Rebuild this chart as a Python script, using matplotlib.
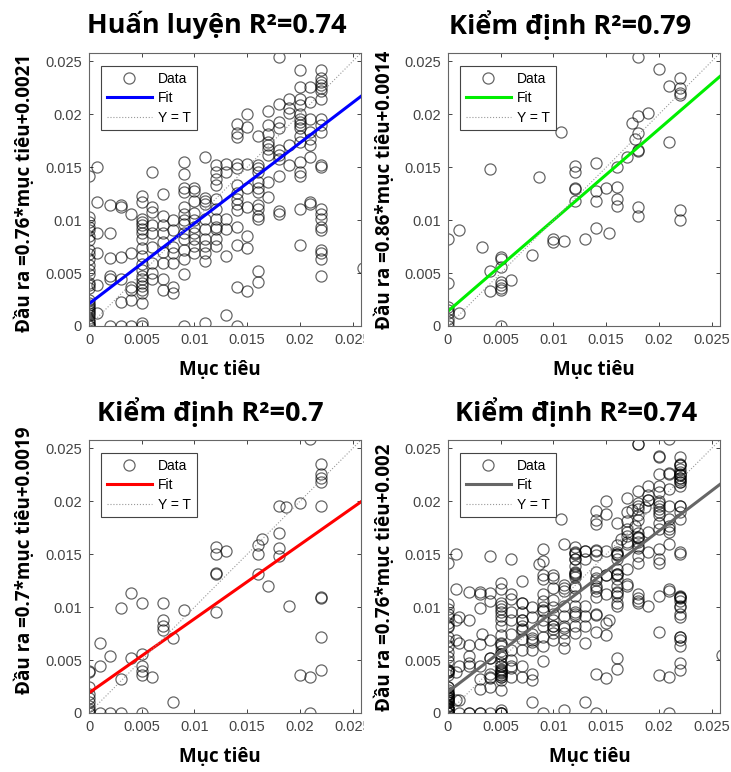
import numpy as np
import matplotlib
matplotlib.use("Agg")
import matplotlib.pyplot as plt
from matplotlib.transforms import Bbox, TransformedBbox

# Training data: target columns and the outputs read in each column
train_cols = [0, 0.0008, 0.002, 0.003, 0.004, 0.005, 0.006, 0.007, 0.008, 0.009, 0.010, 0.011,
              0.012, 0.013, 0.014, 0.015, 0.016, 0.017, 0.018, 0.019, 0.020, 0.021, 0.022, 0.026]
train_outs = [
    [0.0142, 0.0103, 0.0098, 0.0094, 0.0091, 0.0085, 0.0081, 0.0072, 0.0068, 0.0063, 0.0058, 0.0053,
     0.0049, 0.0041, 0.0039, 0.0036, 0.0025, 0.0022, 0.0020, 0.0018, 0.0016, 0.0014, 0.0012, 0.0010,
     0.0008, 0.0006, 0.0004, 0.0002, 0.0001, 0.0],
    [0.0150, 0.0117, 0.0088, 0.0069, 0.0039, 0.0012],
    [0.0114, 0.0088, 0.0064, 0.0047, 0.0044, 0.0],
    [0.0114, 0.0112, 0.0065, 0.0044, 0.0023, 0.0],
    [0.0106, 0.0069, 0.0037, 0.0034, 0.0025, 0.0],
    [0.0123, 0.0117, 0.0101, 0.0098, 0.0095, 0.0092, 0.0088, 0.0082, 0.0074, 0.0066, 0.0059, 0.0053,
     0.0047, 0.0044, 0.0041, 0.0038, 0.0034, 0.0031, 0.0022, 0.0003, 0.0],
    [0.0146, 0.0112, 0.0108, 0.0095, 0.0088, 0.0075, 0.0060, 0.0050, 0.0044],
    [0.0125, 0.0104, 0.0095, 0.0088, 0.0079, 0.0070, 0.0060, 0.0044, 0.0034],
    [0.0100, 0.0091, 0.0075, 0.0069, 0.0060, 0.0037, 0.0031],
    [0.0155, 0.0144, 0.0130, 0.0127, 0.0112, 0.0106, 0.0100, 0.0096, 0.0088, 0.0082, 0.0072, 0.0063,
     0.0049, 0.0],
    [0.0130, 0.0128, 0.0118, 0.0107, 0.0100, 0.0094, 0.0088, 0.0082, 0.0076, 0.0069],
    [0.0160, 0.0121, 0.0118, 0.0115, 0.0101, 0.0092, 0.0082, 0.0076, 0.0069, 0.0061, 0.0003],
    [0.0152, 0.0146, 0.0139, 0.0133, 0.0120, 0.0111, 0.0101, 0.0094, 0.0092, 0.0082, 0.0076],
    [0.0153, 0.0146, 0.0101, 0.0092, 0.0066, 0.0010],
    [0.0191, 0.0182, 0.0179, 0.0153, 0.0149, 0.0133, 0.0126, 0.0120, 0.0115, 0.0110, 0.0094, 0.0077,
     0.0037, 0.0],
    [0.0200, 0.0188, 0.0153, 0.0130, 0.0112, 0.0085, 0.0074, 0.0033],
    [0.0180, 0.0152, 0.0149, 0.0146, 0.0136, 0.0130, 0.0127, 0.0114, 0.0111, 0.0104, 0.0101, 0.0052,
     0.0042],
    [0.0203, 0.0190, 0.0181, 0.0174, 0.0171, 0.0167, 0.0162, 0.0136, 0.0122],
    [0.0254, 0.0210, 0.0193, 0.0187, 0.0166, 0.0162, 0.0158, 0.0142, 0.0109, 0.0106],
    [0.0215, 0.0206, 0.0201, 0.0171, 0.0152],
    [0.0242, 0.0226, 0.0215, 0.0209, 0.0200, 0.0196, 0.0193, 0.0190, 0.0187, 0.0180, 0.0174, 0.0155,
     0.0146, 0.0142, 0.0111, 0.0077],
    [0.0226, 0.0212, 0.0196, 0.0183, 0.0177, 0.0171, 0.0160, 0.0117, 0.0115],
    [0.0242, 0.0234, 0.0231, 0.0228, 0.0225, 0.0222, 0.0215, 0.0196, 0.0190, 0.0183, 0.0152, 0.0150,
     0.0111, 0.0106, 0.0101, 0.0094, 0.0091, 0.0072, 0.0069, 0.0063, 0.0047],
    [0.0055],
]

# Validation data
val_cols = [0, 0.001, 0.0032, 0.004, 0.005, 0.006, 0.008, 0.0086, 0.010, 0.0107, 0.011, 0.012, 0.013,
            0.014, 0.015, 0.0153, 0.016, 0.017, 0.0175, 0.0177, 0.018, 0.019, 0.020, 0.021, 0.022]
val_outs = [
    [0.0082, 0.0041, 0.0018, 0.0015, 0.0012, 0.0007, 0.0004, 0.0],
    [0.0091, 0.0012],
    [0.0075],
    [0.0148, 0.0052, 0.0033],
    [0.0065, 0.0063, 0.0056, 0.0042, 0.0039, 0.0036, 0.0034, 0.0],
    [0.0043],
    [0.0067],
    [0.0141],
    [0.0082, 0.0079],
    [0.0183],
    [0.0080],
    [0.0151, 0.0146, 0.0130, 0.0129, 0.0118],
    [0.0082],
    [0.0154, 0.0128, 0.0118, 0.0093],
    [0.0130],
    [0.0088],
    [0.0150, 0.0131, 0.0120, 0.0113],
    [0.0160],
    [0.0192],
    [0.0177],
    [0.0254, 0.0198, 0.0182, 0.0166, 0.0165, 0.0112, 0.0104],
    [0.0201],
    [0.0243],
    [0.0227, 0.0174],
    [0.0234, 0.0225, 0.0220, 0.0218, 0.0110, 0.0100],
]

# Test data
test_cols = [0, 0.001, 0.002, 0.003, 0.004, 0.005, 0.006, 0.007, 0.008, 0.009, 0.012, 0.013, 0.016,
             0.0164, 0.017, 0.018, 0.0187, 0.019, 0.020, 0.021, 0.022]
test_outs = [
    [0.0040, 0.0039, 0.0025, 0.0018, 0.0014, 0.0010, 0.0007, 0.0004, 0.0002, 0.0],
    [0.0066, 0.0044, 0.0],
    [0.0054, 0.0],
    [0.0099, 0.0032, 0.0],
    [0.0113, 0.0052],
    [0.0104, 0.0056, 0.0044, 0.0040, 0.0036, 0.0],
    [0.0034],
    [0.0104, 0.0088, 0.0082, 0.0078],
    [0.0071, 0.0010],
    [0.0097],
    [0.0157, 0.0150, 0.0132, 0.0131, 0.0095],
    [0.0153],
    [0.0159, 0.0150, 0.0131],
    [0.0164],
    [0.0120],
    [0.0196, 0.0170, 0.0156, 0.0148],
    [0.0195],
    [0.0101],
    [0.0198, 0.0036],
    [0.0259, 0.0034, 0.0],
    [0.0235, 0.0226, 0.0222, 0.0218, 0.0196, 0.0110, 0.0109, 0.0072, 0.0041],
]

titles = ["Huấn luyện R²=0.74", "Kiểm định R²=0.79", "Kiểm định R²=0.7", "Kiểm định R²=0.74"]
slopes = [0.76, 0.86, 0.7, 0.76]
intercepts = [0.0021, 0.0014, 0.0019, 0.002]
ylabels = ["Đầu ra =0.76*mục tiêu+0.0021", "Đầu ra =0.86*mục tiêu+0.0014",
           "Đầu ra =0.7*mục tiêu+0.0019", "Đầu ra =0.76*mục tiêu+0.002"]
fit_colors = ["#0000ff", "#00ee00", "#ff0000", "#666666"]
tick_vals = [0, 0.005, 0.01, 0.015, 0.02, 0.025]
tick_labels = ["0", "0.005", "0.01", "0.015", "0.02", "0.025"]
lim = 0.0258


def expand(cols, outs):
    xs = np.concatenate([[c] * len(o) for c, o in zip(cols, outs)])
    ys = np.concatenate([o for o in outs])
    return xs, ys


tx, ty = expand(train_cols, train_outs)
vx, vy = expand(val_cols, val_outs)
sx, sy = expand(test_cols, test_outs)
# the last panel holds all points together
ax_all = np.concatenate([tx, vx, sx])
ay_all = np.concatenate([ty, vy, sy])
datasets = [(tx, ty), (vx, vy), (sx, sy), (ax_all, ay_all)]

W, H = 731, 772
fig = plt.figure(figsize=(W / 100, H / 100), dpi=100)
bold_font = ["Open Sans", "DejaVu Sans"]

# axes boxes in pixels: left, top
boxes = [(89, 53), (448, 53), (89, 440), (448, 440)]
aw, ah = 272, 273
title_pos = [(217, 25), (570, 25), (210, 412), (576, 412)]
ylab_pos = [(25, 193), (385, 190), (25, 560), (385, 577)]
xlab_pos = [(220, 370), (594, 370), (220, 757), (590, 757)]

for i in range(4):
    left, top = boxes[i]
    ax = fig.add_axes([left / W, 1 - (top + ah) / H, aw / W, ah / H])
    x, y = datasets[i]
    ax.plot(x, y, "o", mfc="none", mec=(0, 0, 0, 0.6), mew=0.9, ms=8, label="Data")
    xf = np.array([0, lim])
    ax.plot(xf, slopes[i] * xf + intercepts[i], color=fit_colors[i], lw=2.2, label="Fit")
    ax.plot([0, lim], [0, lim], ":", color="#999999", lw=0.8, label="Y = T")
    ax.set_xlim(0, lim)
    ax.set_ylim(0, lim)
    ax.set_xticks(tick_vals)
    ax.set_xticklabels(tick_labels)
    ax.set_yticks(tick_vals)
    ax.set_yticklabels(tick_labels)
    ax.tick_params(direction="in", length=3, width=0.7, color="#444444", top=True, right=True,
                   labelsize=10.5, labelcolor="#444444", pad=5)
    for lab in ax.get_xticklabels() + ax.get_yticklabels():
        lab.set_fontfamily("Liberation Sans")
    for sp in ax.spines.values():
        sp.set_color("#666666")
        sp.set_linewidth(0.8)
    leg = ax.legend(loc="upper left", bbox_to_anchor=(12 / aw, 1 - 13 / ah), borderaxespad=0,
                    fancybox=False, framealpha=1, edgecolor="#444444", handlelength=3.3,
                    handletextpad=0.4, borderpad=0.4, labelspacing=0.4,
                    prop={"family": "Liberation Sans", "size": 10})
    leg.get_frame().set_linewidth(0.8)
    # left column is cropped at the right edge in the original
    if i in (0, 2):
        clip = TransformedBbox(Bbox.from_extents(0, 0, 364 / W, 1), fig.transFigure)
        for t in ax.xaxis.get_major_ticks():
            t.label1.set_clip_box(clip)
            t.label1.set_clip_on(True)

    fig.text(title_pos[i][0] / W, 1 - title_pos[i][1] / H, titles[i], ha="center", va="center",
             fontsize=19.5, fontweight="bold", family=bold_font)
    fig.text(ylab_pos[i][0] / W, 1 - ylab_pos[i][1] / H, ylabels[i], ha="center", va="center",
             rotation=90, fontsize=13.6, fontweight="bold", family=bold_font)
    fig.text(xlab_pos[i][0] / W, 1 - xlab_pos[i][1] / H, "Mục tiêu", ha="center", va="center",
             fontsize=13.5, fontweight="bold", family=bold_font)

fig.savefig("out.png", dpi=100)
